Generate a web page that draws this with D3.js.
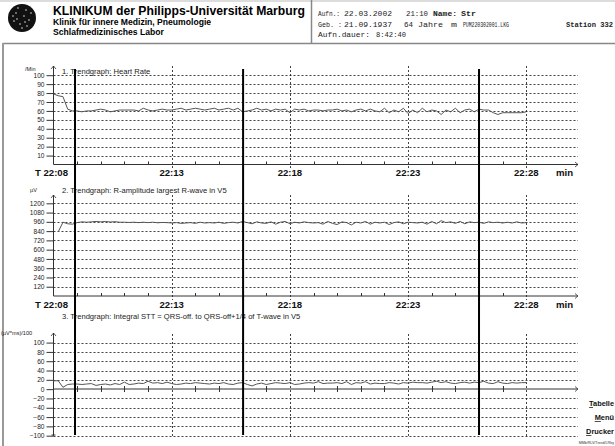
<!DOCTYPE html>
<html><head><meta charset="utf-8">
<script src="https://cdn.jsdelivr.net/npm/d3@7/dist/d3.min.js"></script>
<style>
html,body{margin:0;padding:0;background:#fff;}
svg{display:block;font-family:"Liberation Sans",Arial,sans-serif;}
</style></head>
<body>
<svg id="c" width="615" height="446"></svg>
<script>
// ---------- DATA ----------
const timeLabels = ["T 22:08","22:13","22:18","22:23","22:28"];
const majorMinutes = [0,5,10,15,20];
const markerMinutes = [0.91, 8.02, 18.0];   // thick vertical event markers (minutes after 22:08)
const sampleStep = 0.2;                     // minutes between samples

const hrStart = 0;
const heartRate = [79,77,76,62,60,60,59,60,60,61,62,61,59,60,61,61,61,61,60,63,61,60,61,62,61,61,62,63,61,62,
  63,62,61,62,63,61,62,63,61,63,59,60,61,63,61,62,60,62,61,62,58,62,61,62,60,61,61,60,61,61,
  62,60,61,59,61,62,60,62,60,59,63,58,61,59,63,57,61,58,63,59,61,60,56,61,59,63,58,61,62,59,
  62,61,61,58,56,58,58,58,58,58,59];
const hrTicks = [10,20,30,40,50,60,70,80,90,100];

const rStart = 0.2;
const rAmplitude = [830,955,935,930,950,960,955,960,965,960,965,958,962,955,955,952,955,950,955,950,
  955,948,952,950,945,950,940,945,950,940,955,945,950,945,955,940,950,955,945,965,
  950,935,960,945,940,960,930,955,965,935,955,945,960,950,945,950,930,965,940,925,
  960,950,920,955,945,965,930,955,945,955,925,950,960,935,955,950,945,955,930,965,
  935,975,950,960,940,965,935,960,950,955,940,960,950,955,945,955,945,960,945,950];
const rTicks = [120,240,360,480,600,720,840,960,1080,1200];

const sttStart = 0;
const stt = [18,18,4,10,11,11,10,11,12,8,10,11,9,12,10,15,10,11,13,12,17,13,14,12,15,12,10,11,13,12,
  14,13,12,11,13,12,14,11,10,13,14,10,7,11,13,10,12,14,13,12,14,10,11,13,14,13,16,12,13,13,
  14,12,16,10,14,13,16,11,13,12,12,14,13,11,14,13,15,14,14,13,15,17,14,16,13,12,14,15,13,15,
  14,17,13,12,16,13,12,14,13,14,14];
const sttTicks = [-100,-80,-60,-40,-20,0,20,40,60,80,100];

// header info segments: [text, x, width, bold]
const headerLine1 = [["Aufn.:",318,22,0],["22.03.2002",344,48,0],["21:10",406,22,0],["Name:",433,24,1],["Str",461,15,1]];
const headerLine2 = [["Geb. :",318,24,0],["21.09.1937",344,48,0],["64",404,9,0],["Jahre",418,25,0],["m",451,6,0],["PUM220302001.LKG",463,46,0],["Station 332",566,47,1]];
const headerLine3 = [["Aufn.dauer:",318,52,0],["8:42:40",376,30,0]];

// ---------- DRAW ----------
const svg = d3.select("#c");
const x = d3.scaleLinear().domain([0,20]).range([53.5,526.3]);
const xEnd = 578;

// header
svg.append("line").attr("x1",0).attr("x2",615).attr("y1",1).attr("y2",1).attr("stroke","#bbb");
svg.append("line").attr("x1",3).attr("x2",615).attr("y1",43.5).attr("y2",43.5).attr("stroke","#888").attr("stroke-width",1.5);
svg.append("line").attr("x1",3).attr("x2",3).attr("y1",43).attr("y2",446).attr("stroke","#999").attr("stroke-width",2);
svg.append("line").attr("x1",311.5).attr("x2",311.5).attr("y1",0).attr("y2",43).attr("stroke","#888").attr("stroke-width",1.5);
// logo
const logo = svg.append("g").attr("transform","translate(22,18)");
logo.append("circle").attr("r",14).attr("fill","#111");
const dots = [[-6,-5],[4,-8],[7,2],[-2,6],[-8,3],[2,-2],[9,-5],[-4,-10],[5,8],[-9,-2],[0,10],[-5,1],[3,4]];
logo.selectAll("circle.d").data(dots).enter().append("circle").attr("class","d")
  .attr("cx",d=>d[0]).attr("cy",d=>d[1]).attr("r",0.8).attr("fill","#ddd");

svg.append("text").attr("x",53).attr("y",15).attr("font-size",12.2).attr("font-weight","bold")
  .text("KLINIKUM der Philipps-Universität Marburg");
svg.append("text").attr("x",53).attr("y",25).attr("font-size",8.6).attr("font-weight","bold")
  .text("Klinik für innere Medizin, Pneumologie");
svg.append("text").attr("x",53).attr("y",35).attr("font-size",8.6).attr("font-weight","bold")
  .text("Schlafmedizinisches Labor");

[[headerLine1,16],[headerLine2,26.5],[headerLine3,37]].forEach(([segs,yy])=>{
  svg.selectAll(null).data(segs).enter().append("text")
    .attr("x",d=>d[1]).attr("y",yy).attr("textLength",d=>d[2]).attr("lengthAdjust","spacingAndGlyphs")
    .attr("font-family","'Liberation Mono','Courier New',monospace").attr("font-size",7.4)
    .attr("font-weight",d=>d[3]?"bold":"normal").attr("fill","#222").text(d=>d[0]);
});

// panels
const panels = [
  {name:"1. Trendgraph: Heart Rate", unit:"/Min", unitX:25, data:heartRate, start:hrStart, ticks:hrTicks,
   domain:[0,100], range:[164.5,75.2], axisY:164.5, top:66, bottom:164.5, vTop:66, vBot:169, titleY:74, unitY:70.5, labels:true, labY:176, tickMode:"up"},
  {name:"2. Trendgraph: R-amplitude largest R-wave in V5", unit:"µV", unitX:30, data:rAmplitude, start:rStart, ticks:rTicks,
   domain:[0,1200], range:[296,203.3], axisY:296, top:195, bottom:296, vTop:195, vBot:300, titleY:193, unitY:192, labels:true, labY:307.5, tickMode:"up"},
  {name:"3. Trendgraph: Integral STT = QRS-off. to QRS-off+1/4 of T-wave in V5", unit:"(µV*ms)/100", unitX:1, data:stt, start:sttStart, ticks:sttTicks,
   domain:[-100,100], range:[435.7,342.6], axisY:389, top:333, bottom:436, vTop:334, vBot:437, titleY:318.5, unitY:335, labels:false, tickMode:"cross"}
];

panels.forEach(p=>{
  const y = d3.scaleLinear().domain(p.domain).range(p.range);
  const g = svg.append("g");
  g.append("text").attr("x",62).attr("y",p.titleY).attr("font-size",7.6).attr("fill","#222").text(p.name);
  g.append("text").attr("x",p.unitX).attr("y",p.unitY).attr("font-size",5.6).attr("fill","#222").text(p.unit);
  g.selectAll("line.hg").data(p.ticks.filter(v=>v!==0)).enter().append("line")
    .attr("x1",x(0)).attr("x2",xEnd).attr("y1",d=>Math.round(y(d))+0.5).attr("y2",d=>Math.round(y(d))+0.5)
    .attr("stroke","#111").attr("stroke-width",0.8).attr("stroke-dasharray","2,2");
  g.selectAll("line.vg").data(majorMinutes.slice(1)).enter().append("line")
    .attr("x1",d=>Math.round(x(d))+0.5).attr("x2",d=>Math.round(x(d))+0.5).attr("y1",p.vTop).attr("y2",p.vBot)
    .attr("stroke","#111").attr("stroke-width",0.8).attr("stroke-dasharray","2,2");
  const ya = d3.axisLeft(y).tickValues(p.ticks).tickSize(7).tickPadding(2).tickFormat(d3.format("d"));
  const yg = g.append("g").attr("transform",`translate(${x(0)},0)`).call(ya);
  yg.select(".domain").remove();
  yg.selectAll("line").attr("stroke","#333");
  yg.selectAll("text").attr("font-size",6.6).attr("fill","#222").attr("font-family","'Liberation Sans',Arial,sans-serif");
  g.append("line").attr("x1",x(0)).attr("x2",x(0)).attr("y1",p.top).attr("y2",p.bottom).attr("stroke","#333");
  g.append("path").attr("d",`M${x(0)-2.5},${p.top+3}L${x(0)},${p.top}L${x(0)+2.5},${p.top+3}`).attr("fill","none").attr("stroke","#333").attr("stroke-width",0.8);
  if(p.tickMode==="cross"){
    g.append("line").attr("x1",x(0)-2).attr("x2",x(0)+2).attr("y1",p.bottom-1).attr("y2",p.bottom-1).attr("stroke","#333");
  }
  const ay = p.axisY;
  g.append("line").attr("x1",x(0)).attr("x2",xEnd).attr("y1",ay).attr("y2",ay).attr("stroke","#333");
  g.append("path").attr("d",`M${xEnd-3},${ay-2.5}L${xEnd},${ay}L${xEnd-3},${ay+2.5}`).attr("fill","none").attr("stroke","#333").attr("stroke-width",0.8);
  const minor = d3.range(1,21).filter(m=>m%5!==0);
  g.selectAll("line.mt").data(minor).enter().append("line")
    .attr("x1",d=>Math.round(x(d))+0.5).attr("x2",d=>Math.round(x(d))+0.5)
    .attr("y1",ay-3).attr("y2",p.tickMode==="up"? ay : ay+3)
    .attr("stroke","#333");
  if(p.labels){
    g.selectAll("text.xl").data(majorMinutes).enter().append("text")
      .attr("x",(d,i)=>i===0? x(d)-2 : x(d)).attr("y",p.labY).attr("text-anchor","middle")
      .attr("font-size",9.6).attr("font-weight","bold").attr("fill","#111")
      .text((d,i)=>timeLabels[i]);
    g.append("text").attr("x",556).attr("y",p.labY).attr("font-size",9.6).attr("font-weight","bold").attr("fill","#111").text("min");
  }
  const line = d3.line().x((d,i)=>x(p.start+i*sampleStep)).y(d=>y(d));
  g.append("path").datum(p.data).attr("d",line).attr("fill","none").attr("stroke","#555").attr("stroke-width",1);
});

// thick event markers
svg.selectAll("line.mk").data(markerMinutes).enter().append("line")
  .attr("x1",d=>x(d)).attr("x2",d=>x(d)).attr("y1",69).attr("y2",435)
  .attr("stroke","#000").attr("stroke-width",2);

// right-side menu
const menu = [["T","abelle",406],["M","enü",420],["D","rucker",434]];
menu.forEach(m=>{
  const t = svg.append("text").attr("x",614).attr("y",m[2]).attr("text-anchor","end")
    .attr("font-size",7.4).attr("font-weight","bold").attr("fill","#111");
  t.append("tspan").attr("text-decoration","underline").text(m[0]);
  t.append("tspan").text(m[1]);
});
svg.append("text").attr("x",614).attr("y",444).attr("text-anchor","end").attr("font-size",3.6).attr("fill","#333")
  .text("MMb/RLV/Trend/LRby");
</script>
</body></html>
